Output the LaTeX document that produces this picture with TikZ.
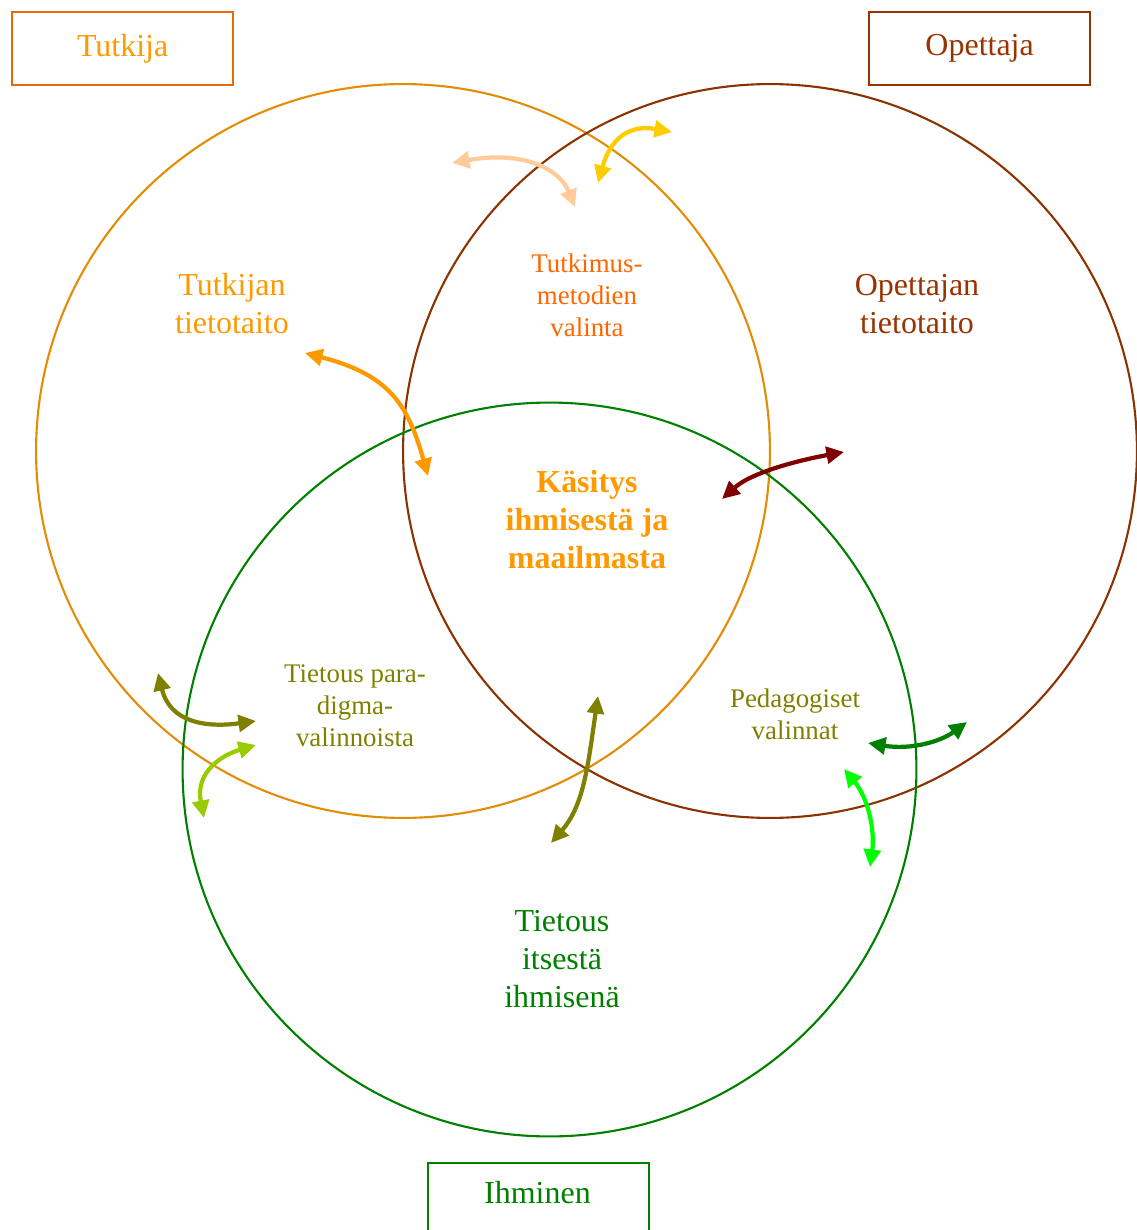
\documentclass[tikz,border=0pt]{standalone}
\usepackage{fontspec}
\setmainfont{Liberation Serif}
\usetikzlibrary{arrows.meta}
\definecolor{cTutBox}{HTML}{E46C0A}
\definecolor{cOrange}{HTML}{FF9900}
\definecolor{cBrown}{HTML}{993300}
\definecolor{cCircOr}{HTML}{E38C05}
\definecolor{cCircBr}{HTML}{8B3300}
\definecolor{cGreen}{HTML}{008000}
\definecolor{cPeach}{HTML}{FFCC99}
\definecolor{cYellow}{HTML}{FFCC00}
\definecolor{cDarkRed}{HTML}{800000}
\definecolor{cOlive}{HTML}{808000}
\definecolor{cLime}{HTML}{99CC00}
\definecolor{cBright}{HTML}{00FF00}
\definecolor{cMethod}{HTML}{FF6600}
\tikzset{
  labelbox/.style={draw, line width=1.3pt, minimum width=4.42cm, minimum height=1.46cm, inner sep=0pt, font=\fontsize{18.2}{21.6}\selectfont},
  bigtext/.style={align=center, font=\fontsize{18.2}{21.6}\selectfont, inner sep=0pt},
  smalltext/.style={align=center, font=\fontsize{15.3}{18.2}\selectfont, inner sep=0pt},
  ring/.style={line width=1.2pt},
  conn/.style={line width=2.4pt, {Triangle[length=10pt,width=9.5pt]}-{Triangle[length=10pt,width=9.5pt]}}
}
\begin{document}
\begin{tikzpicture}[x=0.02cm,y=-0.02cm]
\useasboundingbox (0,0) rectangle (1136,1230);
% circles
\draw[ring, cCircOr] (403,451) circle[radius=7.34cm];
\draw[ring, cCircBr] (770,451) circle[radius=7.34cm];
\draw[ring, cGreen] (549.5,769.5) circle[radius=7.34cm];
% boxes
\node[labelbox, draw=cTutBox, text=cOrange, anchor=north west] (tutkija) at (11,11) {Tutkija};
\node[labelbox, draw=cBrown, text=cBrown, anchor=north west] (opettaja) at (868,11) {Opettaja};
\node[labelbox, draw=cGreen, text=cGreen, anchor=north west, minimum height=1.6cm] (ihminen) at (427,1162) {};
\node[bigtext, text=cGreen] (ihmlabel) at (537.5,1193) {Ihminen};
% texts
\node[bigtext, text=cOrange] (tt) at (232,304) {Tutkijan\\tietotaito};
\node[bigtext, text=cBrown] (ot) at (917,304) {Opettajan\\tietotaito};
\node[smalltext, text=cMethod] (tm) at (587,295) {Tutkimus-\\metodien\\valinta};
\node[bigtext, text=cOrange, font=\bfseries\fontsize{18.2}{21.6}\selectfont] (ka) at (587,520) {Käsitys\\ihmisestä ja\\maailmasta};
\node[smalltext, text=cOlive] (tp) at (355,706) {Tietous para-\\digma-\\valinnoista};
\node[smalltext, text=cOlive] (pv) at (795,714) {Pedagogiset\\valinnat};
\node[bigtext, text=cGreen] (ti) at (562,959) {Tietous\\itsestä\\ihmisenä};
% arrow end points
\coordinate (p1a) at (452,163); \coordinate (p1b) at (575,207);
\coordinate (p2a) at (598,183); \coordinate (p2b) at (672,132);
\coordinate (p3a) at (305,353); \coordinate (p3b) at (428,476);
\coordinate (p4a) at (722,499); \coordinate (p4b) at (844,452);
\coordinate (p5a) at (158,673); \coordinate (p5b) at (256,721);
\coordinate (p6a) at (204,818); \coordinate (p6b) at (256,745);
\coordinate (p7a) at (598,696); \coordinate (p7b) at (551,843);
\coordinate (p8a) at (868,743); \coordinate (p8b) at (967,722);
\coordinate (p9a) at (844,769); \coordinate (p9b) at (870,867);
% arrows
\draw[conn, cPeach] (p1a) .. controls (525,150) and (560,170) .. (p1b);
\draw[conn, cYellow] (p2a) .. controls (610,140) and (628,124) .. (p2b);
\draw[conn, cOrange] (p3a) .. controls (390,375) and (408,405) .. (p3b);
\draw[conn, cDarkRed] (p4a) .. controls (752,472) and (800,460) .. (p4b);
\draw[conn, cOlive] (p5a) .. controls (170,722) and (205,728) .. (p5b);
\draw[conn, cLime] (p6a) .. controls (195,772) and (222,755) .. (p6b);
\draw[conn, cOlive] (p7a) .. controls (588,765) and (584,805) .. (p7b);
\draw[conn, cGreen] (p8a) .. controls (910,750) and (940,742) .. (p8b);
\draw[conn, cBright] (p9a) .. controls (868,798) and (875,830) .. (p9b);
\end{tikzpicture}
\end{document}
